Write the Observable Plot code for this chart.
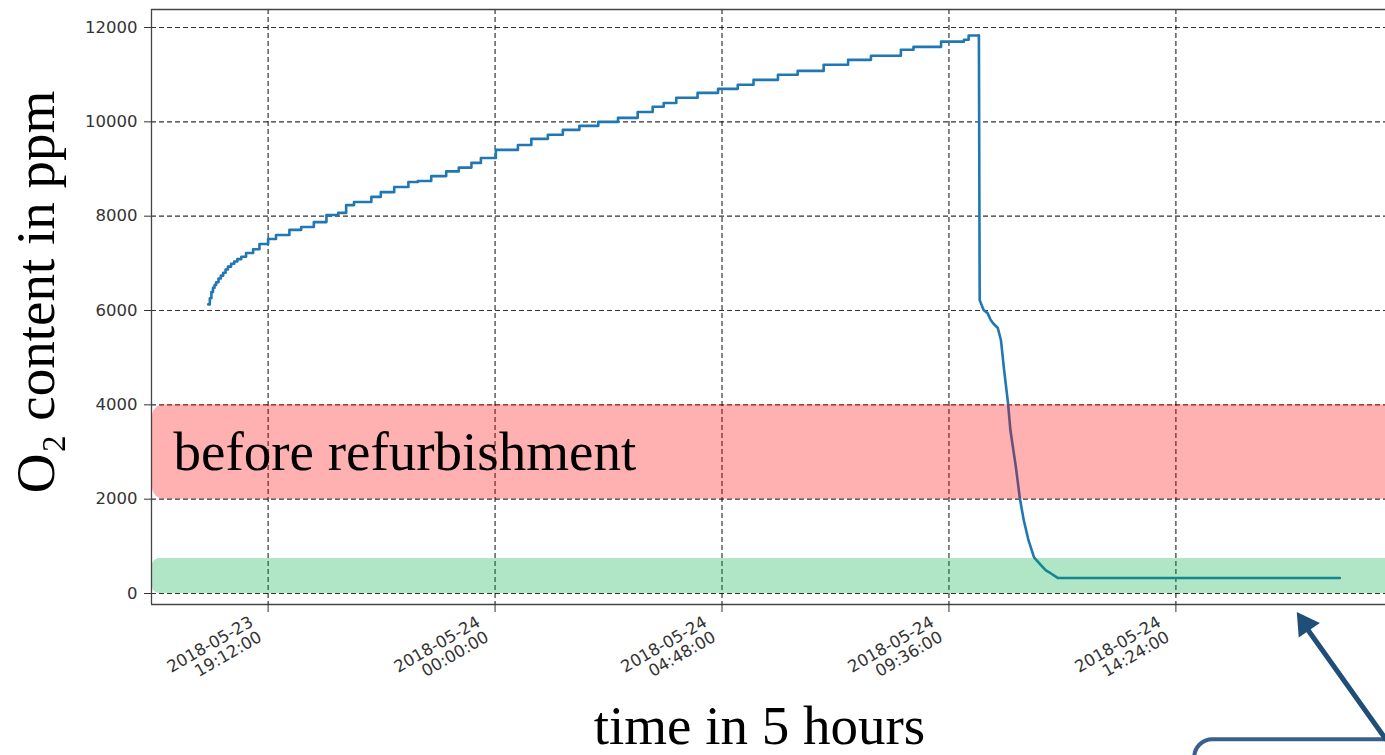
<!DOCTYPE html>
<html>
<head>
<meta charset="utf-8">
<script src="https://cdn.jsdelivr.net/npm/d3@7"></script>
<script src="https://cdn.jsdelivr.net/npm/@observablehq/plot@0.6"></script>
<style>
  html, body { margin: 0; padding: 0; background: #fff; overflow: hidden; }
  #chart { width: 1385px; height: 755px; }
</style>
</head>
<body>
<div id="chart"></div>
<script>
// O2 readings while the chamber slowly fills (stepped sensor output)
const riseTimes = [
  "2018-05-23T17:56", "2018-05-23T17:58", "2018-05-23T18:00", "2018-05-23T18:02",
  "2018-05-23T18:04", "2018-05-23T18:06", "2018-05-23T18:09", "2018-05-23T18:12",
  "2018-05-23T18:15", "2018-05-23T18:18", "2018-05-23T18:21", "2018-05-23T18:25",
  "2018-05-23T18:29", "2018-05-23T18:33", "2018-05-23T18:38", "2018-05-23T18:44",
  "2018-05-23T18:53", "2018-05-23T19:01", "2018-05-23T19:12", "2018-05-23T19:22",
  "2018-05-23T19:39", "2018-05-23T19:54", "2018-05-23T20:10", "2018-05-23T20:26",
  "2018-05-23T20:41", "2018-05-23T20:51", "2018-05-23T21:01", "2018-05-23T21:23",
  "2018-05-23T21:35", "2018-05-23T21:52", "2018-05-23T22:10", "2018-05-23T22:22",
  "2018-05-23T22:39", "2018-05-23T22:58", "2018-05-23T23:14", "2018-05-23T23:30",
  "2018-05-23T23:42", "2018-05-24T00:01", "2018-05-24T00:29", "2018-05-24T00:46",
  "2018-05-24T01:07", "2018-05-24T01:26", "2018-05-24T01:47", "2018-05-24T02:11",
  "2018-05-24T02:36", "2018-05-24T03:01", "2018-05-24T03:20", "2018-05-24T03:34",
  "2018-05-24T03:50", "2018-05-24T04:17", "2018-05-24T04:43", "2018-05-24T05:08",
  "2018-05-24T05:28", "2018-05-24T05:59", "2018-05-24T06:24", "2018-05-24T06:57",
  "2018-05-24T07:28", "2018-05-24T07:57", "2018-05-24T08:35", "2018-05-24T08:51",
  "2018-05-24T09:26", "2018-05-24T09:55", "2018-05-24T10:01", "2018-05-24T10:14"
];
const riseValues = [
  6130, 6260, 6390, 6480, 6540, 6600, 6680, 6740, 6800, 6870, 6930, 6990,
  7040, 7090, 7140, 7220, 7300, 7410, 7515, 7600, 7710, 7770, 7875, 8025,
  8070, 8235, 8300, 8410, 8510, 8620, 8725, 8745, 8850, 8950, 9030, 9130,
  9235, 9405, 9510, 9640, 9725, 9830, 9915, 10000, 10085, 10210, 10320, 10400,
  10510, 10615, 10700, 10785, 10890, 11000, 11080, 11210, 11315, 11400, 11530, 11590,
  11700, 11740, 11830, 11830
];

// O2 readings after refurbishment: fast purge down to the residual level
const fallTimes = [
  "2018-05-24T10:14", "2018-05-24T10:15", "2018-05-24T10:20", "2018-05-24T10:25",
  "2018-05-24T10:29", "2018-05-24T10:32", "2018-05-24T10:38", "2018-05-24T10:42",
  "2018-05-24T10:46", "2018-05-24T10:51", "2018-05-24T10:54", "2018-05-24T11:01",
  "2018-05-24T11:06", "2018-05-24T11:11", "2018-05-24T11:17", "2018-05-24T11:24",
  "2018-05-24T11:33", "2018-05-24T11:39", "2018-05-24T11:45", "2018-05-24T11:54",
  "2018-05-24T17:52"
];
const fallValues = [
  11830, 6220, 6010, 5945, 5800, 5730, 5630, 5370, 4735, 4030, 3460, 2675,
  2015, 1550, 1125, 765, 595, 490, 430, 330, 330
];

// Reference bands (ppm)
const redBandLabel = "before refurbishment";
const redBand = [2000, 4000];
const greenBand = [0, 740];

// Axis ticks
const yTicks = [0, 2000, 4000, 6000, 8000, 10000, 12000];
const xTicks = ["2018-05-23T19:12", "2018-05-24T00:00", "2018-05-24T04:48",
                "2018-05-24T09:36", "2018-05-24T14:24"];

// Axis titles
const yTitle = "O\u2082 content in ppm";
const xTitle = "time in 5 hours";

const utc = s => new Date(s + ":00Z");
const rise = riseTimes.map((t, i) => ({time: utc(t), o2: riseValues[i]}));
const fall = fallTimes.map((t, i) => ({time: utc(t), o2: fallValues[i]}));
const tickDates = xTicks.map(utc);

const xDomain = [utc("2018-05-23T16:44"), utc("2018-05-24T18:50")];
const yDomain = [-233, 12382];
const bandStart = xDomain[0];
const bandEnd = utc("2018-05-24T20:00");

// pointer annotation below the plot, in data units
const pointer = [{x1: utc("2018-05-24T18:50"), y1: -3080, x2: utc("2018-05-24T17:06"), y2: -640}];
const pointerHead = [{x: utc("2018-05-24T17:08"), y: -650}];
const callout = [{x1: utc("2018-05-24T14:48"), x2: utc("2018-05-24T20:30"), y1: -3100, y2: -5000}];

const fmt = d3.utcFormat("%Y-%m-%d\n%H:%M:%S");
const grid = {stroke: "#000", strokeOpacity: 0.8, strokeWidth: 1.2, strokeDasharray: "5,3"};
const serif = "'Liberation Serif', 'DejaVu Serif', serif";
const sans = "'DejaVu Sans', sans-serif";
const band = (range, fill, rx) => Plot.rect([range], {
  x1: () => bandStart, x2: () => bandEnd, y1: d => d[0], y2: d => d[1],
  fill, fillOpacity: 0.31, rx, insetLeft: 1
});

const chart = Plot.plot({
  width: 1385,
  height: 755,
  marginLeft: 151,
  marginRight: 0,
  marginTop: 9,
  marginBottom: 151,
  style: {background: "#fff", overflow: "visible"},
  x: {type: "utc", domain: xDomain, axis: null},
  y: {domain: yDomain, axis: null},
  marks: [
    Plot.gridY(yTicks, grid),
    Plot.gridX(tickDates, grid),
    Plot.line(rise, {x: "time", y: "o2", curve: "step-after", stroke: "#1f77b4", strokeWidth: 2.6}),
    Plot.line(fall, {x: "time", y: "o2", stroke: "#1f77b4", strokeWidth: 2.6}),
    // shaded bands, translucent over grid and curve
    band(redBand, "#ff0000", 12),
    band(greenBand, "#00ac48", 7),
    Plot.text([redBandLabel], {y: () => (redBand[0] + redBand[1]) / 2, text: d => d,
      frameAnchor: "left", textAnchor: "start", lineAnchor: "middle", dx: 22,
      fontSize: 55, fontFamily: serif, fill: "#000"}),
    // frame: left, bottom and top edges
    Plot.ruleX([xDomain[0]], {stroke: "#444", strokeWidth: 1.3}),
    Plot.ruleY([yDomain[0], yDomain[1]], {stroke: "#444", strokeWidth: 1.3}),
    // axes: outward ticks, y labels
    Plot.axisY(yTicks, {anchor: "left", tickSize: 7, tickPadding: 7, label: null,
      tickFormat: d => String(d), stroke: "#333", fontSize: 16.5, fontFamily: sans, fill: "#333"}),
    Plot.axisX(tickDates, {anchor: "bottom", tickSize: 8, label: null, stroke: "#333",
      tickFormat: () => ""}),
    // x tick labels
    Plot.text(tickDates, {x: d => d, text: d => fmt(d), frameAnchor: "bottom", rotate: -30,
      textAnchor: "end", lineAnchor: "top", lineHeight: 1.05, dx: -20, dy: 10,
      fontSize: 16.5, fontFamily: sans, fill: "#333"}),
    // axis titles
    Plot.text([yTitle], {text: d => d, frameAnchor: "left", rotate: -90, textAnchor: "middle",
      lineAnchor: "middle", dx: -115, dy: -15, fontSize: 55, fontFamily: serif, fill: "#000"}),
    Plot.text([xTitle], {text: d => d, frameAnchor: "bottom", textAnchor: "middle",
      lineAnchor: "middle", dx: -9, dy: 122, fontSize: 55, fontFamily: serif, fill: "#000"}),
    // callout pointing to the residual level
    Plot.rect(callout, {x1: "x1", x2: "x2", y1: "y1", y2: "y2", fill: "none",
      stroke: "#3a5f8f", strokeWidth: 4, rx: 18}),
    Plot.arrow(pointer, {x1: "x1", y1: "y1", x2: "x2", y2: "y2", stroke: "#1f4e79",
      strokeWidth: 5, headLength: 0}),
    Plot.dot(pointerHead, {x: "x", y: "y", symbol: "triangle", r: 9.5, rotate: -34.5,
      fill: "#1f4e79", stroke: "none"})
  ]
});

document.getElementById("chart").appendChild(chart);
</script>
</body>
</html>
